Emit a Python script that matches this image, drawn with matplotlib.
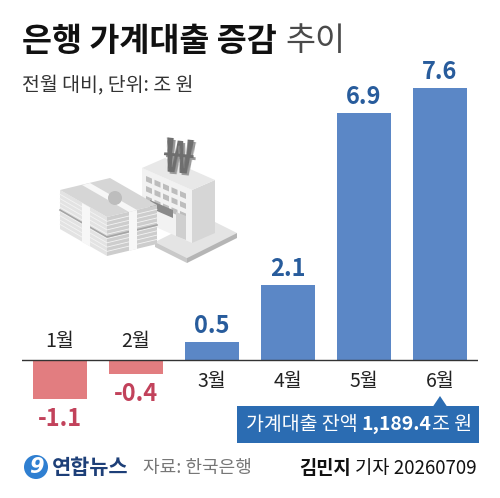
import matplotlib
matplotlib.use("Agg")
import matplotlib.pyplot as plt
from matplotlib.patches import Polygon, Rectangle, Circle

plt.rcParams['font.family'] = ['Noto Sans CJK KR', 'DejaVu Sans']

# 데이터
months = ["1월", "2월", "3월", "4월", "5월", "6월"]
values = [-1.1, -0.4, 0.5, 2.1, 6.9, 7.6]
balance = "1,189.4"

BLUE_BAR = "#5b87c6"
BLUE_TXT = "#285c9c"
RED_BAR = "#e27d80"
RED_TXT = "#c2425b"
BOX = "#2b6cb2"

W, H = 500, 498
fig = plt.figure(figsize=(W / 100, H / 100), dpi=100)
fig.patch.set_facecolor("white")

# 막대 축 (픽셀 기준 배치)
x0, x1, ytop, ybot = 22, 478, 60, 420
ax = fig.add_axes([x0 / W, 1 - ybot / H, (x1 - x0) / W, (ybot - ytop) / H])
ppu = 35.8  # 1조 원당 픽셀
base = 360
ax.set_ylim(-(ybot - base) / ppu, (base - ytop) / ppu)
ax.set_xlim(-0.5, len(months) - 0.5)
ax.axis("off")

cols = [BLUE_BAR if v >= 0 else RED_BAR for v in values]
ax.bar(range(len(values)), values, width=0.72, color=cols, zorder=2)
ax.axhline(0, color="#333333", lw=1.0, zorder=3)

for i, (m, v) in enumerate(zip(months, values)):
    if v >= 0:
        ax.annotate(f"{v:.1f}", (i, v), xytext=(0, 16), textcoords="offset pixels",
                    ha="center", va="center", fontsize=17, fontweight="bold",
                    color=BLUE_TXT)
        ax.annotate(m, (i, 0), xytext=(0, -21), textcoords="offset pixels",
                    ha="center", va="center", fontsize=14, color="#222222")
    else:
        ax.annotate(f"{v:.1f}", (i, v), xytext=(0, -20), textcoords="offset pixels",
                    ha="center", va="center", fontsize=17, fontweight="bold",
                    color=RED_TXT)
        ax.annotate(m, (i, 0), xytext=(0, 19), textcoords="offset pixels",
                    ha="center", va="center", fontsize=14, color="#222222")

# 전체 오버레이 (픽셀 좌표)
ov = fig.add_axes([0, 0, 1, 1])
ov.set_xlim(0, W)
ov.set_ylim(H, 0)
ov.axis("off")
ov.patch.set_alpha(0)


def poly(pts, fc, z=1, ec="none", lw=0):
    ov.add_patch(Polygon(pts, closed=True, fc=fc, ec=ec, lw=lw, zorder=z))


# 일러스트: 은행 건물
poly([(155, 242), (205, 217), (237, 233), (187, 258)], "#e4e4e4")
poly([(155, 242), (187, 258), (187, 263), (155, 247)], "#c9c9c9")
poly([(187, 258), (237, 233), (237, 238), (187, 263)], "#b5b5b5")
poly([(142, 168), (192, 190), (192, 243), (142, 221)], "#f2f2f2")
poly([(192, 190), (215, 180), (215, 233), (192, 243)], "#d6d6d6")
poly([(142, 168), (165, 158), (215, 180), (192, 190)], "#e8e8e8")
for r in range(3):
    for c in range(5):
        wx = 146 + c * 8.5
        wy = 176 + c * 8.5 * 0.44 + r * 10
        poly([(wx, wy), (wx + 6, wy + 2.6), (wx + 6, wy + 8), (wx, wy + 5.4)], "#bdbdbd")
poly([(150, 200), (173, 210), (173, 218), (150, 208)], "#8a8a8a")
poly([(176, 212), (186, 216), (186, 240), (176, 236)], "#cfcfcf")
ov.text(180, 161, "₩", fontsize=34, fontweight="bold", color="#9a9a9a",
        ha="center", va="center", rotation=-6, zorder=2)
ov.text(178, 159, "₩", fontsize=34, fontweight="bold", color="#6e6e6e",
        ha="center", va="center", rotation=-6, zorder=2)

# 일러스트: 지폐 묶음
poly([(60, 190), (107, 217), (107, 256), (60, 229)], "#e3e3e3", z=3)
poly([(107, 217), (157, 205), (157, 244), (107, 256)], "#cdcdcd", z=3)
poly([(60, 190), (110, 178), (157, 205), (107, 217)], "#d6d6d6", z=3)
for k in range(1, 9):
    dy = k * 4.3
    ov.plot([60, 107, 157], [190 + dy, 217 + dy, 205 + dy], color="#f4f4f4", lw=0.6, zorder=4)
ov.plot([60, 107, 157], [210, 237, 225], color="#a5a5a5", lw=1.2, zorder=4)
poly([(82, 185), (90, 183), (137, 210), (129, 212)], "#f7f7f7", z=4)
poly([(82, 203), (90, 207.5), (90, 246.5), (82, 242)], "#f7f7f7", z=4)
poly([(129, 212), (137, 210), (137, 249), (129, 251)], "#f7f7f7", z=4)
ov.add_patch(Circle((115, 198), 7, fc="#bdbdbd", ec="none", zorder=4))

# 제목
fig.canvas.draw()
r = fig.canvas.get_renderer()
t1 = ov.text(22, 41, "은행 가계대출 증감", fontsize=23.5, fontweight="bold",
             color="#111111", ha="left", va="center")
bb = t1.get_window_extent(r)
ov.text(bb.x1 + 9, 41, "추이", fontsize=23.5, fontweight="light",
        color="#4a4a4a", ha="left", va="center")
ov.text(22, 86, "전월 대비, 단위: 조 원", fontsize=14, color="#333333",
        ha="left", va="center")

# 잔액 박스
ov.add_patch(Rectangle((237, 406), 242, 37, fc=BOX, ec="none", zorder=5))
poly([(433, 406.5), (440, 396), (447, 406.5)], BOX, z=5)
p1 = ov.text(246, 424.5, "가계대출 잔액", fontsize=14, color="white",
             ha="left", va="center", zorder=6)
bb = p1.get_window_extent(r)
p2 = ov.text(bb.x1 + 4, 424.5, balance, fontsize=14, fontweight="bold", color="white",
             ha="left", va="center", zorder=6)
bb = p2.get_window_extent(r)
ov.text(bb.x1 + 1, 424.5, "조 원", fontsize=14, color="white",
        ha="left", va="center", zorder=6)

# 하단
ov.add_patch(Circle((36, 467), 12, fc="#2f7fd1", ec="none", zorder=5))
ov.text(36, 467, "9", fontsize=15, fontweight="bold", style="italic", color="white",
        ha="center", va="center", zorder=6, family=["DejaVu Sans"])
ov.text(52, 467, "연합뉴스", fontsize=15, fontweight="bold", color="#1d3f78",
        ha="left", va="center")
ov.text(143, 468, "자료: 한국은행", fontsize=13, color="#777777",
        ha="left", va="center")
b1 = ov.text(299, 468, "김민지", fontsize=13.5, fontweight="bold", color="#111111",
             ha="left", va="center")
bb = b1.get_window_extent(r)
ov.text(bb.x1 + 4, 468, "기자 20260709", fontsize=13.5, color="#111111",
        ha="left", va="center")

fig.savefig("out.png", dpi=100, facecolor="white")
